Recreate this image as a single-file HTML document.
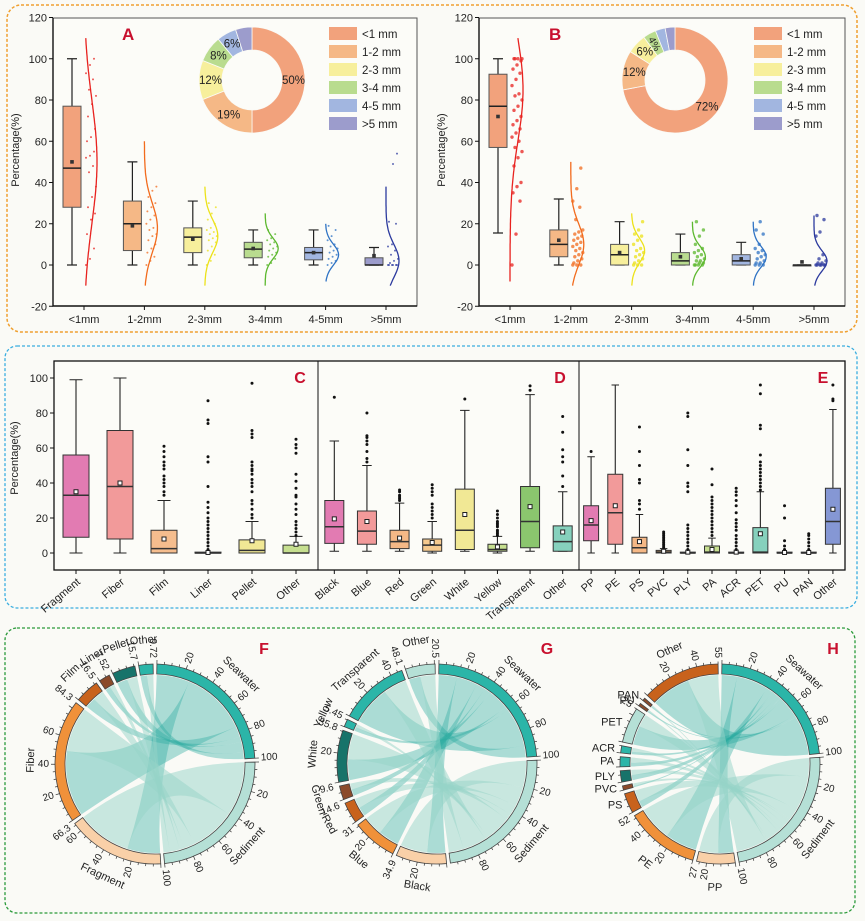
<!DOCTYPE html>
<html><head><meta charset="utf-8"><style>
html,body{margin:0;padding:0;background:#fafaf6;}
svg{display:block;font-family:"Liberation Sans",sans-serif;}
</style></head><body>
<svg id="chart" width="865" height="921" viewBox="0 0 865 921" xmlns="http://www.w3.org/2000/svg">
<rect x="0" y="0" width="865" height="921" fill="#fafaf6"/>
<rect x="7" y="5" width="850" height="327" rx="14" fill="none" stroke="#f0a030" stroke-width="1.5" stroke-dasharray="3 2"/>
<rect x="5" y="346" width="852" height="262" rx="12" fill="none" stroke="#3aaee0" stroke-width="1.3" stroke-dasharray="3 2"/>
<rect x="5" y="628" width="850" height="285" rx="12" fill="none" stroke="#2a9a3a" stroke-width="1.3" stroke-dasharray="3 2"/>
</svg>
<script>
// ---------- data: panels A/B ----------
const sizeCats = ['<1mm','1-2mm','2-3mm','3-4mm','4-5mm','>5mm'];
const legendLabels = ['<1 mm','1-2 mm','2-3 mm','3-4 mm','4-5 mm','>5 mm'];
const aQ1 = [28,7,6,3.5,2.5,0];
const aMed = [47,20,13.5,7.7,6,0];
const aQ3 = [77,31,18,11,8.5,3.5];
const aLo = [0,0,0,0,0,0];
const aHi = [100,50,31,17,17,8.5];
const aMean = [50,19,12.5,8,6,4.5];
const aVLo = [-10,-10,-10,-10,-8,-10];
const aVHi = [110,60,38,25,20,38];
const aVPeak = [50,18,14,8,5,2];
const aVSd = [30,12,8,5,5,8];
const aPts = [[0,3,8,15,22,25,28,33,38,45,48,52,53,55,60,62,66,72,78,82,85,90,93,97,100],
 [0,2,4,6,8,10,12,14,15,17,18,20,22,24,26,28,30,33,36,38],
 [0,2,5,7,9,11,12,13,14,15,16,17,18,20,22,25,28,30],
 [0,1,3,4,5,6,7,8,9,10,11,12,13,15,17],
 [0,1,2,3,4,5,6,7,8,9,10,12,14,17,19],
 [0,0,0,0,0,0,1,2,3,5,7,9,10,20,21,49,54]];
const aShare = [50,19,12,8,6,5];
const bQ1 = [57,4,0,0,0,0];
const bMed = [77,10,5,2,2,0];
const bQ3 = [92.5,17,10,6,5,0];
const bLo = [15.5,0,0,0,0,0];
const bHi = [100,32,21,15,11,0];
const bMean = [72,12,6,4,3,1.5];
const bVLo = [-8,-10,-10,-10,-10,-10];
const bVHi = [110,50,25,21,21,24];
const bVPeak = [85,10,7,4,4,2];
const bVSd = [25,10,6,5,5,5];
const bPts = [[0,15,31,35,38,40,48,52,55,57,60,62,64,66,68,70,72,75,77,80,82,83,87,90,93,95,97,99,100,100,100,100],
 [0,0,0,1,2,3,4,5,6,7,8,9,10,11,12,13,14,15,16,17,22,28,31,37,47],
 [0,0,0,1,2,3,4,5,6,7,8,10,12,14,15,17,21],
 [0,0,0,0,1,1,2,2,3,4,5,6,7,8,10,14,17,21],
 [0,0,0,1,1,2,3,4,5,6,7,8,10,15,17,21],
 [0,0,0,0,0,0,1,1,2,3,5,14,16,22,24]];
const bShare = [72,12,6,4,3,3];
const sizeTicks = [-20,0,20,40,60,80,100,120];

// ---------- data: panels C/D/E ----------
const groupNames = ['C','D','E'];
const groupCats = [['Fragment','Fiber','Film','Liner','Pellet','Other'],
 ['Black','Blue','Red','Green','White','Yellow','Transparent','Other'],
 ['PP','PE','PS','PVC','PLY','PA','ACR','PET','PU','PAN','Other']];
const mQ1 = [[9,8,0,0,0,0],[5.5,5,2.5,1,2,1,3,1],[7,5,0,0,0,0,0,0,0,0,5]];
const mMed = [[33,38,2.5,0,1.5,0],[15,12.5,6.5,4.5,13,2,18,6.5],[16,23,3,0.5,0,0.5,0,0.5,0,0,18]];
const mQ3 = [[56,70,13,0.5,7.5,4.5],[30,24,13,8,36.5,5,38,15.5],[27,45,9,1.5,0.5,4,0.5,14.5,0.5,0.5,37]];
const mLo = [[0,0,0,0,0,0],[1,1,1,0,1,0,1,1],[0,0,0,0,0,0,0,0,0,0,0]];
const mHi = [[99,100,30,0,18,9.5],[64,50,28.5,18,81.5,9.5,90.5,35],[55,96,22,2.5,0,8.5,0,35,0,0,82]];
const mMean = [[35,40,8,0.3,7,5],[19.5,18,8.5,6,22,3.5,26.5,12],[18.5,27,6.5,1,0.5,2,0.5,11,0.3,0.3,25]];
const mOut = [[[],[],[33,35,38,40,42,44,48,50,52,55,58,61],[2,4,6,8,10,12,14,16,18,20,23,26,29,38,52,55,74,76,87],[20,22,25,28,30,35,38,40,42,45,47,48,50,52,66,68,70,97],[10,12,14,16,18,22,25,28,32,33,37,41,45,57,60,62,65]],
 [[89],[52,54,58,62,64,66,67,80],[30,31,32,33,35,36],[20,22,24,26,28,33,35,37,39],[88],[10,11,12,13,15,16,17,18,20,22,24],[93,95.5],[38,44,52,55,59,69,78]],
 [[58],[],[25,28,30,40,42,50,58,72],[3,4,5,6,7,8,9,10,11,12],[2,4,6,8,10,12,14,16,35,38,40,50,59,78,80],[10,12,14,16,18,20,22,24,26,28,30,32,39,48],[2,4,6,8,10,13,15,17,19,23,27,30,33,35,37],[36,38,40,42,44,46,48,50,52,56,71,73,91,96],[2,4,7,20,27],[2,4,6,8,10,11],[87,88,96]]];
const midTicks = [0,20,40,60,80,100];

// ---------- data: chord panels ----------
const fCats = ['Fragment','Fiber','Film','Liner','Pellet','Other'];
const fSea = [25,50,8,4,8,5];
const fSed = [41.3,34.3,8.5,3.52,7.7,4.72];
const gCats = ['Black','Blue','Red','Green','White','Yellow','Transparent','Other'];
const gSea = [14,16,7,5,16,3,30,9];
const gSed = [20.9,15,7.6,4.6,19.8,2.45,18.1,11.5];
const hCats = ['PP','PE','PS','PVC','PLY','PA','ACR','PET','PU','PAN','Other'];
const hSea = [12,25,5,1,4,3,2,15,1,1,31];
const hSed = [15,27,9,2,4,4,3,10,1,1,24];

// ---------- helpers ----------
const NS='http://www.w3.org/2000/svg';
const svg=document.getElementById('chart');
function mk(tag,attrs,parent){const e=document.createElementNS(NS,tag);for(const k in attrs)e.setAttribute(k,attrs[k]);(parent||svg).appendChild(e);return e;}
function tx(str,attrs,parent){const e=mk('text',attrs,parent);e.textContent=str;return e;}
function fmt(v){return String(+(+v).toFixed(2));}

const sizeFill=['#f2a27c','#f5b886','#f7ef9c','#b9dc8f','#a2b6e0','#9c9ccc'];
const sizeLine=['#e8221f','#f26b1d','#ece21a','#5cb82e','#2f73c4','#2c3a9e'];

function sizePanel(px0,px1,letter,Q1,Med,Q3,Lo,Hi,Mean,VLo,VHi,VPeak,VSd,Pts,Share,ptR,lx){
  const top=18,bot=306;
  const y=v=>265-v*2.0625;
  const g=mk('g',{});
  
  
  const fr=mk('rect',{x:px0,y:top,width:px1-px0,height:bot-top,fill:'#fcfcf8',stroke:'#555','stroke-width':1},g);
  
  
  const ax=mk('path',{d:`M${px0},${top}V${bot}H${px1}`,stroke:'#111','stroke-width':1.4,fill:'none'},g);
  
  
  sizeTicks.forEach(t=>{
    const tk=mk('line',{x1:px0-4,x2:px0,y1:y(t),y2:y(t),stroke:'#111'},g);
    
    
    const tl=tx(t,{x:px0-6,y:y(t)+4,'font-size':11,'text-anchor':'end',fill:'#222'},g);
    
    
  });
  const yt=tx('Percentage(%)',{x:0,y:0,'font-size':11,'text-anchor':'middle',fill:'#222',transform:`translate(${px0-34},150) rotate(-90)`},g);
  
  
  const step=(px1-px0-62)/5.0;
  sizeCats.forEach((c,i)=>{
    const cx=px0+31+i*step;
    const xt=mk('line',{x1:cx,x2:cx,y1:bot,y2:bot+4,stroke:'#111'},g);
    
    
    const xl=tx(c,{x:cx,y:bot+17,'font-size':11,'text-anchor':'middle',fill:'#222'},g);
    
    
    const bx=cx-12;
    const wh=mk('path',{d:`M${bx},${y(Lo[i])}V${y(Hi[i])}M${bx-5},${y(Lo[i])}H${bx+5}M${bx-5},${y(Hi[i])}H${bx+5}`,stroke:'#222','stroke-width':1.2,fill:'none'},g);
    
    
    const bxr=mk('rect',{x:bx-9,y:y(Q3[i]),width:18,height:Math.max(1,y(Q1[i])-y(Q3[i])),fill:sizeFill[i],stroke:'#555','stroke-width':1},g);
    
    
    const md=mk('line',{x1:bx-9,x2:bx+9,y1:y(Med[i]),y2:y(Med[i]),stroke:'#222','stroke-width':1.5},g);
    
    
    const mn=mk('rect',{x:bx-1.8,y:y(Mean[i])-1.8,width:3.6,height:3.6,fill:'#333'},g);
    
    
    let d='';
    for(let v=VLo[i];v<=VHi[i]+0.01;v+=1){
      const w=13*Math.exp(-0.5*Math.pow((v-VPeak[i])/VSd[i],2));
      d+=(d?'L':'M')+(cx+w).toFixed(1)+','+y(v).toFixed(1);
    }
    const vl=mk('path',{d:d,stroke:sizeLine[i],'stroke-width':1.3,fill:'none'},g);
    
    
    Pts[i].forEach((v,j)=>{
      const p=mk('circle',{cx:cx+2+((j*37)%11),cy:y(v),r:ptR,fill:sizeLine[i],'fill-opacity':0.75},g);
      
      
    });
  });
  const lt=tx(letter,{x:lx,y:40,'font-size':17,'font-weight':'bold',fill:'#c8102e'},g);
  
  
  const dcx=px0+(letter==='A'?199:196), dcy=80, R=53, r=30;
  let a0=0; const tot=Share.reduce((s,v)=>s+v,0);
  Share.forEach((v,i)=>{
    const a1=a0+v/tot*360;
    const P=(a,rr)=>[dcx+rr*Math.sin(a*Math.PI/180),dcy-rr*Math.cos(a*Math.PI/180)];
    const L=(a1-a0)>180?1:0;
    const p1=P(a0,R),p2=P(a1,R),p3=P(a1,r),p4=P(a0,r);
    const s=mk('path',{d:`M${p1}A${R},${R} 0 ${L} 1 ${p2}L${p3}A${r},${r} 0 ${L} 0 ${p4}Z`,fill:sizeFill[i],stroke:'#fafaf6','stroke-width':0.8},g);
    
    
    if(v>=4 && !(letter==='A'&&i===5)){
      const m=P((a0+a1)/2,(R+r)/2);
      const sm=v<5;
      const lb=tx(v+'%',{x:m[0],y:m[1]+4,'font-size':sm?10:11.5,'text-anchor':'middle',fill:'#222',transform:sm?`rotate(${((a0+a1)/2)-90+180} ${m[0]} ${m[1]})`:''},g);
      
      
    }
    a0=a1;
  });
  const lgx=px0+(letter==='A'?276:275);
  legendLabels.forEach((l,i)=>{
    const sw=mk('rect',{x:lgx,y:27+i*18,width:28,height:13,fill:sizeFill[i]},g);
    
    
    const ltx=tx(l,{x:lgx+33,y:38+i*18,'font-size':11.5,fill:'#222'},g);
    
    
  });
}
sizePanel(53,417,'A',aQ1,aMed,aQ3,aLo,aHi,aMean,aVLo,aVHi,aVPeak,aVSd,aPts,aShare,1,122);
sizePanel(479,845,'B',bQ1,bMed,bQ3,bLo,bHi,bMean,bVLo,bVHi,bVPeak,bVSd,bPts,bShare,1.7,549);

// ---------- panels C/D/E ----------
(function(){
  const x0=54,x1=845,top=361,bot=570;
  const y=v=>553-v*1.75;
  const bounds=[[54,318],[318,579],[579,845]];
  const bw=[26,19,15];
  const fills=[['#e27bb2','#f29a9a','#f5bd8e','#cccccc','#f1e895','#c6df8f'],
   ['#e27bb2','#f29a9a','#f5b886','#f5c98e','#f1e895','#c6df8f','#8bc66e','#86d1bd'],
   ['#e27bb2','#f29a9a','#f5b886','#c89a6a','#f1e895','#c6df8f','#9ed3a0','#86d1bd','#9ec6d8','#a2b6e0','#8597d4']];
  const g=mk('g',{});
  
  
  const fr=mk('rect',{x:x0,y:top,width:x1-x0,height:bot-top,fill:'#fcfcf8',stroke:'#111','stroke-width':1.3},g);
  
  
  [318,579].forEach(xx=>{
    const dv=mk('line',{x1:xx,x2:xx,y1:top,y2:bot,stroke:'#111','stroke-width':1},g);
    
    
  });
  midTicks.forEach(t=>{
    const tk=mk('line',{x1:x0-4,x2:x0,y1:y(t),y2:y(t),stroke:'#111'},g);
    
    
    const tl=tx(t,{x:x0-6,y:y(t)+4,'font-size':11,'text-anchor':'end',fill:'#222'},g);
    
    
  });
  const yt=tx('Percentage(%)',{x:0,y:0,'font-size':11,'text-anchor':'middle',fill:'#222',transform:'translate(18,458) rotate(-90)'},g);
  
  
  const letterX=[300,560,823];
  groupCats.forEach((cats,gi)=>{
    const [gx0,gx1]=bounds[gi]; const sp=(gx1-gx0)/cats.length; const w=bw[gi];
    const lt=tx(groupNames[gi],{x:letterX[gi],y:383,'font-size':16,'font-weight':'bold',fill:'#c8102e','text-anchor':'middle'},g);
    
    
    cats.forEach((c,i)=>{
      const cx=gx0+(i+0.5)*sp;
      const xt=mk('line',{x1:cx,x2:cx,y1:bot,y2:bot+4,stroke:'#111'},g);
      
      
      const xl=tx(c,{x:0,y:0,'font-size':11,'text-anchor':'end',fill:'#222',transform:`translate(${cx+5},${bot+13}) rotate(-40)`},g);
      
      
      const wh=mk('path',{d:`M${cx},${y(mLo[gi][i])}V${y(mHi[gi][i])}M${cx-w/4},${y(mLo[gi][i])}H${cx+w/4}M${cx-w/4},${y(mHi[gi][i])}H${cx+w/4}`,stroke:'#222','stroke-width':1.1,fill:'none'},g);
      
      
      const b=mk('rect',{x:cx-w/2,y:y(mQ3[gi][i]),width:w,height:Math.max(1,y(mQ1[gi][i])-y(mQ3[gi][i])),fill:fills[gi][i],stroke:'#333','stroke-width':1},g);
      
      
      const md=mk('line',{x1:cx-w/2,x2:cx+w/2,y1:y(mMed[gi][i]),y2:y(mMed[gi][i]),stroke:'#333','stroke-width':1.5},g);
      
      
      const mn=mk('rect',{x:cx-2,y:y(mMean[gi][i])-2,width:4,height:4,fill:'#fff',stroke:'#222','stroke-width':1},g);
      
      
      mOut[gi][i].forEach(v=>{
        const o=mk('circle',{cx:cx,cy:y(v),r:1.5,fill:'#111'},g);
        
        
      });
    });
  });
})();

// ---------- chord panels ----------
function chord(cx,cy,letter,lx,cats,sea,sed,colors){
  const g=mk('g',{});
  
  
  const segs=[{n:'Seawater',v:sea.reduce((a,b)=>a+b,0),c:'#2bb5a8'},{n:'Sediment',v:sed.reduce((a,b)=>a+b,0),c:'#b5e0d6'}];
  cats.forEach((c,i)=>segs.push({n:c,v:sea[i]+sed[i],c:colors[i],cat:true}));
  const gap=2.2, total=segs.reduce((a,s)=>a+s.v,0), k=(360-segs.length*gap)/total;
  let a=gap/2;
  segs.forEach(s=>{s.s=a;s.e=a+s.v*k;a=s.e+gap;});
  const P=(ang,r)=>[(cx+r*Math.sin(ang*Math.PI/180)).toFixed(2),(cy-r*Math.cos(ang*Math.PI/180)).toFixed(2)];
  const R2=100,R1=90,RC=89;
  const many=cats.length>8;
  let seaCur=segs[0].s, sedCur=segs[1].s;
  const ribbons=[];
  cats.forEach((c,i)=>{
    const s=segs[i+2]; const a0=s.s, a1=a0+sea[i]*k, a2=a1+sed[i]*k;
    ribbons.push({n:c+'-seawater',s0:a0,s1:a1,t0:seaCur,t1:seaCur+sea[i]*k,col:'rgba(43,170,160,0.38)'});
    seaCur+=sea[i]*k;
    ribbons.push({n:c+'-sediment',s0:a1,s1:a2,t0:sedCur,t1:sedCur+sed[i]*k,col:'rgba(150,212,200,0.5)'});
    sedCur+=sed[i]*k;
  });
  ribbons.slice().sort((p,q)=>p.col<q.col?1:-1).forEach(rb=>{
    const la=(rb.s1-rb.s0)>180?1:0, lb=(rb.t1-rb.t0)>180?1:0;
    const d=`M${P(rb.s0,RC)}A${RC},${RC} 0 ${la} 1 ${P(rb.s1,RC)}Q${cx},${cy} ${P(rb.t0,RC)}A${RC},${RC} 0 ${lb} 1 ${P(rb.t1,RC)}Q${cx},${cy} ${P(rb.s0,RC)}Z`;
    const p=mk('path',{d:d,fill:rb.col,stroke:'none'},g);
    
    
  });
  segs.forEach(s=>{
    const L=(s.e-s.s)>180?1:0;
    const arc=mk('path',{d:`M${P(s.s,R2)}A${R2},${R2} 0 ${L} 1 ${P(s.e,R2)}L${P(s.e,R1)}A${R1},${R1} 0 ${L} 0 ${P(s.s,R1)}Z`,fill:s.c,stroke:'#444','stroke-width':0.8},g);
    
    
    for(let v=0;v<=s.v+0.001;v+=5){
      const an=s.s+v*k, major=v%20===0;
      const tk=mk('line',{x1:P(an,R2)[0],y1:P(an,R2)[1],x2:P(an,R2+(major?4:2.5))[0],y2:P(an,R2+(major?4:2.5))[1],stroke:'#333','stroke-width':0.7},g);
      
      
      if(major&&v>0&&(!s.cat||s.v-v>6)) radial(String(v),an);
    }
    if(s.cat && (!many || s.v>=20)) radial(fmt(s.v),s.e);
    const mid=(s.s+s.e)/2;
    if(many && s.cat && s.v<30 && mid>235 && mid<335){
      const pp=P(mid,106);
      const nm=tx(s.n,{x:pp[0],y:pp[1],'font-size':11,'text-anchor':'end','dominant-baseline':'middle',fill:'#222'},g);
      
      
      return;
    }
    const pp=P(mid,124);
    let rot=(mid>90&&mid<270)?mid-180:(mid>=270?mid-360:mid);
    const nm=tx(s.n,{x:pp[0],y:pp[1],'font-size':11,'text-anchor':'middle','dominant-baseline':'middle',fill:'#222',transform:`rotate(${rot.toFixed(1)} ${pp[0]} ${pp[1]})`},g);
    
    
  });
  function radial(str,an){
    const pp=P(an,106); const right=an<180;
    const t=tx(str,{x:pp[0],y:pp[1],'font-size':10,'text-anchor':right?'start':'end','dominant-baseline':'middle',fill:'#222',transform:`rotate(${(right?an-90:an+90).toFixed(1)} ${pp[0]} ${pp[1]})`},g);
    
    
  }
  const lt=tx(letter,{x:lx,y:654,'font-size':16,'font-weight':'bold',fill:'#c8102e','text-anchor':'middle'},g);
  
  
}
chord(155,764,'F',264,fCats,fSea,fSed,['#f9d0a8','#f0913a','#c8621c','#8b4a2a','#17736a','#2bb5a8']);
chord(437,764,'G',547,gCats,gSea,gSed,['#f9d0a8','#f0913a','#c8621c','#8b4a2a','#17736a','#2bb5a8','#2bb5a8','#b5e0d6']);
chord(720,764,'H',833,hCats,hSea,hSed,['#f9d0a8','#f0913a','#c8621c','#8b4a2a','#17736a','#2bb5a8','#2bb5a8','#b5e0d6','#8b4a2a','#8b4a2a','#c8621c']);
</script>
</body></html>
